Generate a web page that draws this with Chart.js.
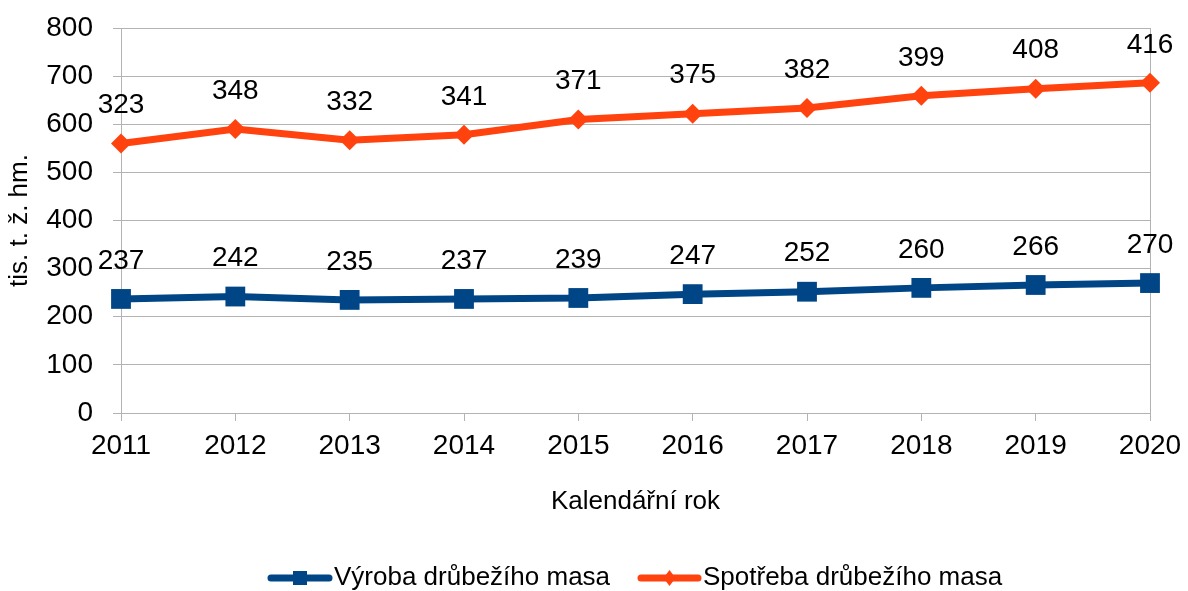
<!DOCTYPE html>
<html>
<head>
<meta charset="utf-8">
<script src="https://cdn.jsdelivr.net/npm/chart.js@4/dist/chart.umd.min.js"></script>
<style>
  html, body { margin: 0; padding: 0; background: #fff; }
  #wrap { width: 1188px; height: 591px; }
</style>
</head>
<body>
<div id="wrap"><canvas id="poultry" width="1188" height="591"></canvas></div>
<script>
// data
const years = ["2011", "2012", "2013", "2014", "2015", "2016", "2017", "2018", "2019", "2020"];
const production = [237, 242, 235, 237, 239, 247, 252, 260, 266, 270];
const consumption = [323, 348, 332, 341, 371, 375, 382, 399, 408, 416];
const seriesNames = ["Výroba drůbežího masa", "Spotřeba drůbežího masa"];
const yTitle = "tis. t. ž. hm.";
const xTitle = "Kalendářní rok";

const BLUE = '#004586';
const ORANGE = '#ff420e';
const GRID = '#b3b3b3';
const FONT = '"Liberation Sans", Arial, sans-serif';

// value labels above each point (raw value, not the stacked one)
const valueLabels = {
  id: 'valueLabels',
  afterDatasetsDraw(chart) {
    const ctx = chart.ctx;
    ctx.save();
    ctx.font = '28px ' + FONT;
    ctx.fillStyle = '#000';
    ctx.textAlign = 'center';
    ctx.textBaseline = 'middle';
    chart.data.datasets.forEach((ds, i) => {
      chart.getDatasetMeta(i).data.forEach((pt, j) => {
        ctx.fillText(String(ds.data[j]), pt.x, pt.y - 38);
      });
    });
    ctx.restore();
  }
};

// legend: line + marker, then the name
const lineLegend = {
  id: 'lineLegend',
  afterDraw(chart) {
    const ctx = chart.ctx;
    const y = 578;
    const items = [
      { x0: 268, x1: 332, color: BLUE, shape: 'square', text: seriesNames[0] },
      { x0: 638, x1: 701, color: ORANGE, shape: 'diamond', text: seriesNames[1] }
    ];
    ctx.save();
    items.forEach(it => {
      ctx.strokeStyle = it.color;
      ctx.fillStyle = it.color;
      ctx.lineWidth = 7;
      ctx.lineCap = 'round';
      ctx.beginPath();
      ctx.moveTo(it.x0 + 3, y);
      ctx.lineTo(it.x1 - 3, y);
      ctx.stroke();
      const cx = (it.x0 + it.x1) / 2;
      ctx.beginPath();
      if (it.shape === 'square') {
        ctx.rect(cx - 7, y - 7, 14, 14);
      } else {
        ctx.moveTo(cx, y - 8);
        ctx.lineTo(cx + 6, y);
        ctx.lineTo(cx, y + 8);
        ctx.lineTo(cx - 6, y);
        ctx.closePath();
      }
      ctx.fill();
      ctx.fillStyle = '#000';
      ctx.font = '26px ' + FONT;
      ctx.textAlign = 'left';
      ctx.textBaseline = 'middle';
      ctx.fillText(it.text, it.x1 + 2, y);
    });
    ctx.restore();
  }
};

const chart = new Chart(document.getElementById('poultry'), {
  type: 'line',
  data: {
    labels: years,
    datasets: [
      {
        label: seriesNames[0],
        data: production,
        borderColor: BLUE,
        backgroundColor: BLUE,
        borderWidth: 7,
        pointStyle: 'rect',
        pointRadius: 14,
        pointBorderWidth: 0,
        fill: false,
        tension: 0
      },
      {
        label: seriesNames[1],
        data: consumption,
        borderColor: ORANGE,
        backgroundColor: ORANGE,
        borderWidth: 7,
        pointStyle: 'rectRot',
        pointRadius: 10,
        pointBorderWidth: 0,
        fill: false,
        tension: 0
      }
    ]
  },
  options: {
    responsive: false,
    animation: false,
    devicePixelRatio: 1,
    layout: { padding: { left: 0, right: 38, top: 28, bottom: 74 } },
    plugins: {
      legend: { display: false },
      tooltip: { enabled: false }
    },
    scales: {
      x: {
        offset: false,
        grid: {
          color: c => (c.index === 0 || c.index === years.length - 1) ? GRID : 'rgba(0,0,0,0)',
          tickColor: GRID,
          tickLength: 8,
          drawTicks: true
        },
        border: { color: GRID },
        ticks: { color: '#000', font: { family: FONT, size: 28 }, padding: 8, maxRotation: 0 },
        title: { display: true, text: xTitle, color: '#000', font: { family: FONT, size: 26 }, padding: { top: 0, bottom: 0 } },
        afterFit(scale) {
          scale.height = 104;
          scale.paddingLeft = 0;
          scale.paddingRight = 0;
        }
      },
      y: {
        stacked: true,
        min: 0,
        max: 800,
        ticks: { stepSize: 100, color: '#000', font: { family: FONT, size: 28 }, padding: 20 },
        grid: { color: GRID, tickColor: GRID, tickLength: 8 },
        border: { color: GRID },
        title: { display: true, text: yTitle, color: '#000', font: { family: FONT, size: 26 }, padding: { top: 4, bottom: 0 } },
        afterFit(scale) {
          scale.width = 121;
          scale.paddingTop = 0;
          scale.paddingBottom = 0;
        }
      }
    }
  },
  plugins: [valueLabels, lineLegend]
});
</script>
</body>
</html>
